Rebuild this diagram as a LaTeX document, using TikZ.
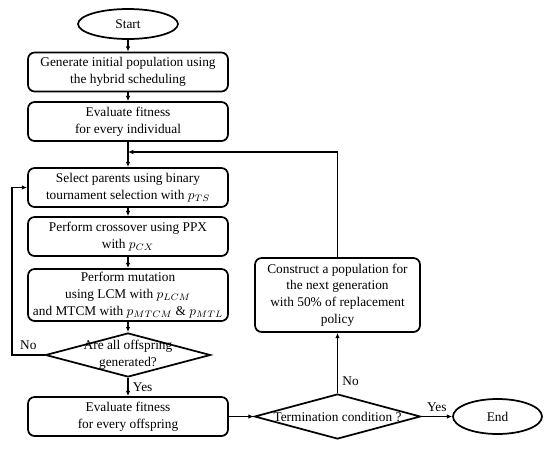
\documentclass[tikz,border=0pt]{standalone}
\usepackage{fontspec}
\setmainfont{Liberation Serif}
\usetikzlibrary{shapes.geometric,arrows.meta}

\tikzset{
  process/.style={draw, line width=1.3pt, rounded corners=5pt, minimum width=150pt, minimum height=29.25pt, align=center, inner sep=1pt},
  terminal/.style={draw, ellipse, line width=1.3pt, inner sep=0pt},
  decision/.style={draw, diamond, line width=1.3pt, inner sep=0pt},
}

\begin{document}
\begin{tikzpicture}[x=0.75pt, y=-0.75pt, font=\fontsize{10}{12.5}\selectfont, >={Latex[length=4pt,width=3.5pt]}, line width=0.8pt]
	\useasboundingbox (0,0) rectangle (550,450);
	% main column
	\node[terminal, minimum width=75pt, minimum height=22.5pt] (start) at (128,24) {Start};
	\node[process] (init) at (128,72) {Generate initial population using\\the hybrid scheduling};
	\node[process] (evalpop) at (128,121.5) {Evaluate fitness\\for every individual};
	\node[process] (select) at (128,187.5) {Select parents using binary\\tournament selection with $p_{TS}$};
	\node[process] (cross) at (128,236.5) {Perform crossover using PPX\\with $p_{CX}$};
	\node[process, minimum height=39pt] (mutate) at (128,295) {Perform mutation\\using LCM with $p_{LCM}$\\and MTCM with $p_{MTCM}$ \& $p_{MTL}$};
	\node[decision, minimum width=123.75pt, minimum height=33pt, label={[align=center]center:Are all offspring\\generated?}] (alldone) at (128,355) {};
	\node[process] (evaloff) at (128,416.5) {Evaluate fitness\\for every offspring};
	% right column
	\node[decision, minimum width=124.5pt, minimum height=33.75pt, label=center:Termination condition ?] (term) at (337.5,416.5) {};
	\node[terminal, minimum width=66.75pt, minimum height=26.25pt] (end) at (497.5,416.5) {End};
	\node[process, minimum width=123.75pt, minimum height=55.5pt] (construct) at (337.5,295) {Construct a population for\\the next generation\\with 50\% of replacement\\policy};
	\coordinate (merge) at (128,152);
	\coordinate (loopleft) at (12,355);
	% connectors
	\draw[->] (start) -- (init);
	\draw[->] (init) -- (evalpop);
	\draw[->] (evalpop) -- (select);
	\draw[->] (select) -- (cross);
	\draw[->] (cross) -- (mutate);
	\draw[->] (mutate) -- (alldone);
	\draw[->] (alldone) -- node[right] {Yes} (evaloff);
	\draw[->] (alldone.west) -- node[above] {No} (loopleft) |- (select.west);
	\draw[->] (evaloff) -- (term);
	\draw[->] (term) -- node[above] {Yes} (end);
	\draw[->] (term.north) -- node[right, pos=0.2] {No} (construct.south);
	\draw[->] (construct.north) |- (merge);
\end{tikzpicture}
\end{document}
